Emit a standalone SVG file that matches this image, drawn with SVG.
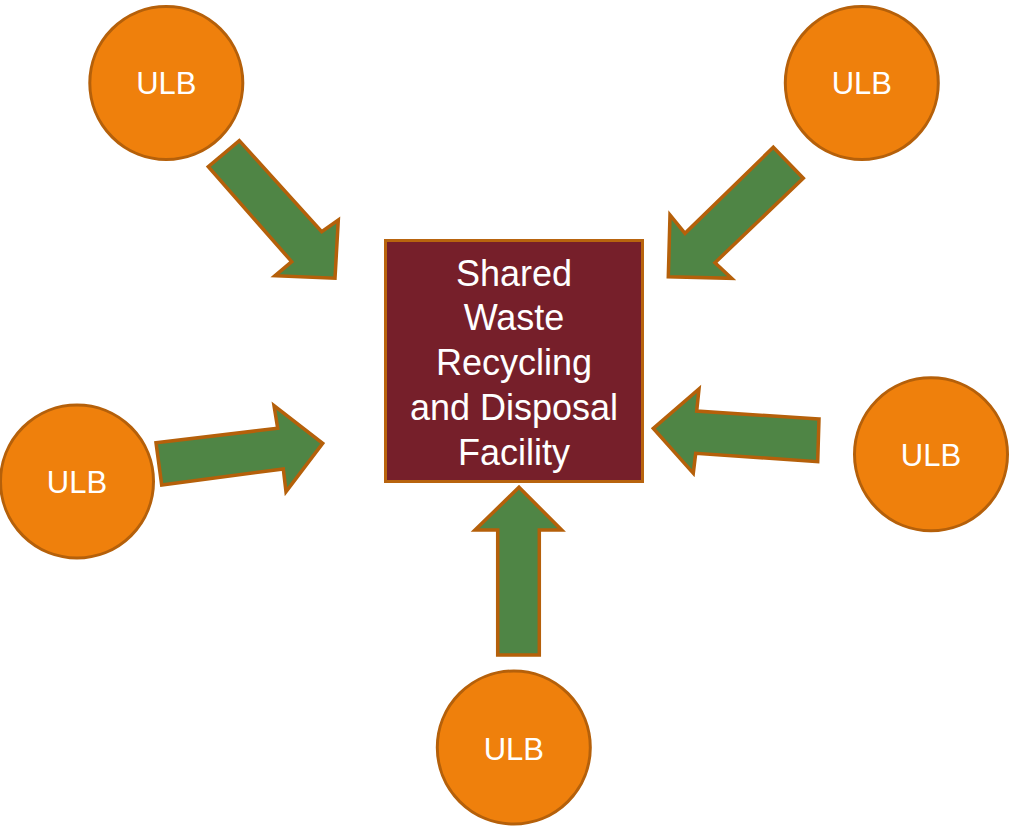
<svg xmlns="http://www.w3.org/2000/svg" width="1010" height="829" viewBox="0 0 1010 829">
  <style>
    .ulb circle { fill: #EF800C; stroke: #B5600A; stroke-width: 3; }
    .ulb text { fill: #FFFFFF; font-family: "Liberation Sans", Arial, sans-serif; font-size: 31px; text-anchor: middle; }
    .flow { fill: #4F8545; stroke: #B5600A; stroke-width: 3.5; stroke-linejoin: miter; }
    .facility rect { fill: #761F2A; stroke: #B8640E; stroke-width: 3; }
    .facility text { fill: #FFFFFF; font-family: "Liberation Sans", Arial, sans-serif; font-size: 36px; text-anchor: middle; }
  </style>

  <!-- block arrows pointing into the facility -->
  <g id="connectors">
    <polygon class="flow" points="239.3,140.7 321.7,231.7 338.3,220 335,278.3 275,275.7 291.7,261.7 208.3,166.7"/>
    <polygon class="flow" points="773.3,147.3 803.3,178.3 715,262.7 731.7,278.3 668.3,276.7 670,215 685,233.3"/>
    <polygon class="flow" points="156,442.7 277.7,428.3 274,405.7 322.7,443.3 286,491.7 283.3,469 161.7,485"/>
    <polygon class="flow" points="819,419 696.7,411 699,389 653.3,428.3 693.3,473.3 695.7,453.3 817.7,461.7"/>
    <polygon class="flow" points="519,487.3 561.7,530 539.3,530 539.3,655 497.7,655 497.7,530 475,530"/>
  </g>

  <g id="facility" class="facility">
    <rect x="385.5" y="240.5" width="257" height="241"/>
    <text x="514" y="285.5">Shared</text>
    <text x="514" y="330">Waste</text>
    <text x="514" y="375">Recycling</text>
    <text x="514" y="420">and Disposal</text>
    <text x="514" y="464.5">Facility</text>
  </g>

  <g id="ulb-top-left" class="ulb">
    <circle cx="166.3" cy="83" r="76.5"/>
    <text x="166.3" y="94.3">ULB</text>
  </g>
  <g id="ulb-top-right" class="ulb">
    <circle cx="861.8" cy="83" r="76.5"/>
    <text x="861.8" y="94.3">ULB</text>
  </g>
  <g id="ulb-left" class="ulb">
    <circle cx="77" cy="481.5" r="76.5"/>
    <text x="77" y="493.3">ULB</text>
  </g>
  <g id="ulb-right" class="ulb">
    <circle cx="931" cy="454.3" r="76.5"/>
    <text x="931" y="465.7">ULB</text>
  </g>
  <g id="ulb-bottom" class="ulb">
    <circle cx="513.8" cy="747.5" r="76.5"/>
    <text x="513.8" y="759.5">ULB</text>
  </g>
</svg>
